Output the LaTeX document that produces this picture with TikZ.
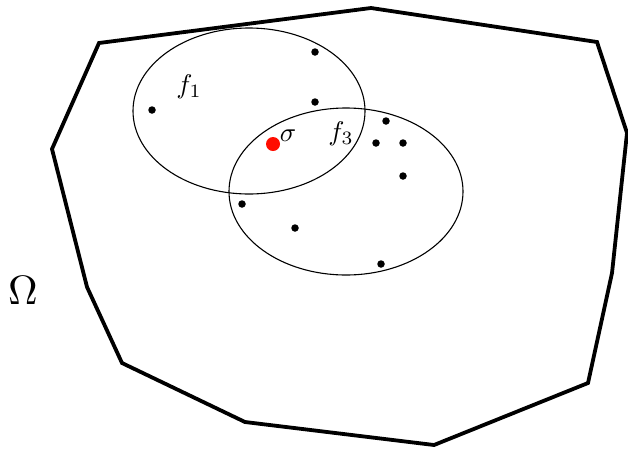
\documentclass[tikz,border=0pt]{standalone}
\usepackage{graphicx}
\usetikzlibrary{shapes.geometric}
\begin{document}
\begin{tikzpicture}[x=1pt,y=-1pt,
  dot/.style={circle,fill=black,inner sep=0pt,minimum size=7.5pt},
  reddot/.style={circle,fill=red!90!orange,inner sep=0pt,minimum size=14pt},
  lbl/.style={inner sep=0pt},
  region/.style={line width=3.8pt,line join=miter},
  patch/.style={line width=1.1pt}]
\useasboundingbox (0,0) rectangle (628,448);
% domain boundary
\draw[region] (99,43) -- (371,8) -- (597,42) -- (627,133) -- (612,273) -- (588,383)
  -- (434,445) -- (245,422) -- (122,363) -- (87,287) -- (52,149) -- cycle;
% supports
\draw[patch] (249,111) ellipse [x radius=116, y radius=83];
\draw[patch] (346,191.5) ellipse [x radius=117, y radius=83.5];
% points
\node[dot] (p1) at (315,52) {};
\node[dot] (p2) at (152,110) {};
\node[dot] (p3) at (315,102) {};
\node[dot] (p4) at (386,121) {};
\node[dot] (p5) at (376,143) {};
\node[dot] (p6) at (403,143) {};
\node[dot] (p7) at (403,176) {};
\node[dot] (p8) at (242,204) {};
\node[dot] (p9) at (295,228) {};
\node[dot] (p10) at (381,264) {};
\node[reddot] (s) at (273,144) {};
% labels
\node[lbl] (f1) at (189,87) {\scalebox{2.7}{$f_1$}};
\node[lbl] (sig) at (288,136) {\scalebox{2.7}{$\sigma$}};
\node[lbl] (f3) at (341,134) {\scalebox{2.7}{$f_3$}};
\node[lbl] (om) at (23,290) {\scalebox{4.1}{$\Omega$}};
\end{tikzpicture}
\end{document}
